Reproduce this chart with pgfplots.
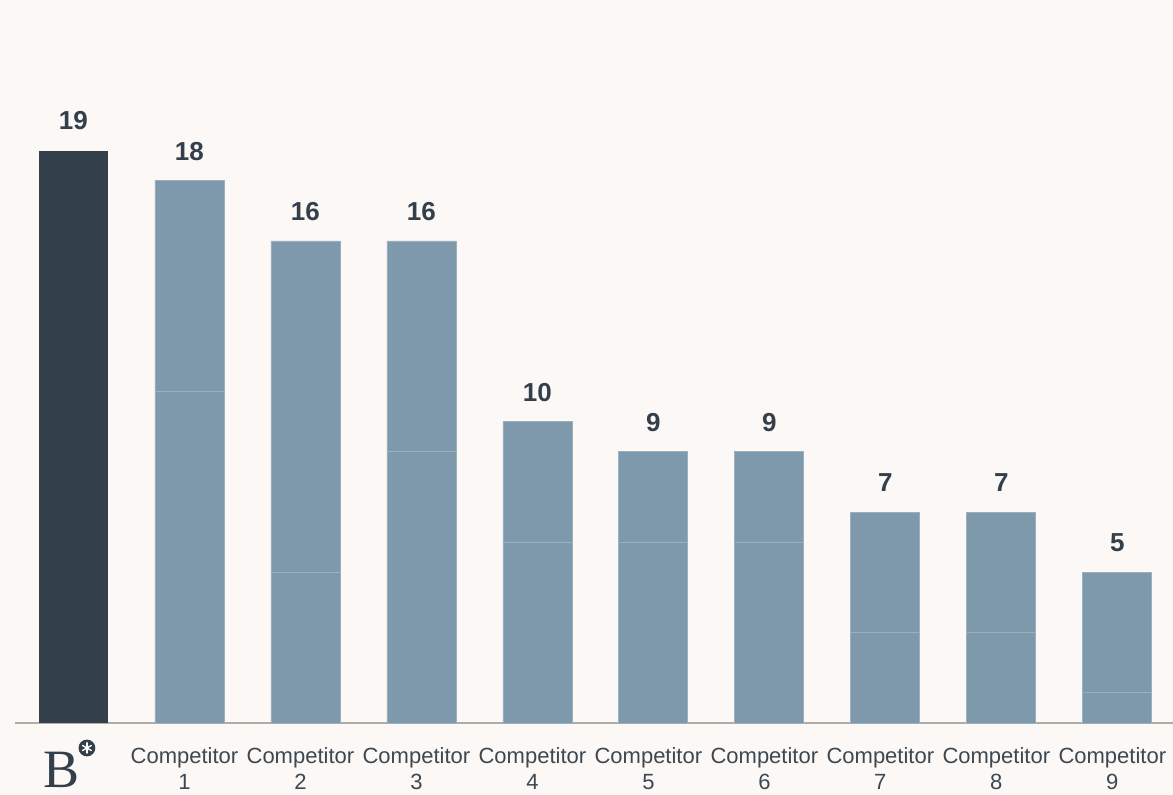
\documentclass[border=0pt]{standalone}
\usepackage{fontspec}
\setmainfont{Liberation Sans}
\newfontfamily\seriffont{Liberation Serif}
\usepackage{pgfplots}
\pgfplotsset{compat=1.18}

\definecolor{bg}{HTML}{FBF8F5}
\definecolor{darkbar}{HTML}{333F4A}
\definecolor{lightbar}{HTML}{7F99AC}
\definecolor{sepcol}{HTML}{9BAFBE}
\definecolor{axcol}{HTML}{B0ADA6}
\definecolor{txt}{HTML}{3D4852}

\pgfplotsset{
    panel/.style={
        at={(0,0)}, anchor=south west,
        scale only axis,
        width=579pt, height=361.5pt,
        xmin=-0.504, xmax=9.48,
        ymin=0, ymax=24,
        clip=false,
    }
}

\begin{document}
\begin{tikzpicture}
% canvas: 1 px = 0.5pt, 1173x795 px
\fill[bg] (-7.5pt,-36pt) rectangle (579pt,361.5pt);
\useasboundingbox (-7.5pt,-36pt) rectangle (579pt,361.5pt);
\begin{axis}[
    panel,
    ybar stacked,
    bar width=34.5pt,
    axis x line*=bottom,
    axis y line=none,
    axis line style={axcol, line width=0.8pt},
    xtick={0,...,9},
    xticklabels={,Competitor\\1,Competitor\\2,Competitor\\3,Competitor\\4,Competitor\\5,Competitor\\6,Competitor\\7,Competitor\\8,Competitor\\9},
    major tick length=0pt,
    xticklabel style={align=center, text=txt, inner sep=0pt, yshift=-12pt, xshift=-2.5pt,
        font=\fontsize{11}{13}\selectfont},
    ytick=\empty,
    ]

% B (own brand)
\addplot[fill=darkbar, draw=none] coordinates {
    (0,19) (1,0) (2,0) (3,0) (4,0) (5,0) (6,0) (7,0) (8,0) (9,0)
};
% lower segment
\addplot[fill=lightbar, draw=sepcol, line width=0.4pt] coordinates {
    (0,0) (1,11) (2,5) (3,9) (4,6) (5,6) (6,6) (7,3) (8,3) (9,1)
};
% upper segment
\addplot[fill=lightbar, draw=sepcol, line width=0.4pt] coordinates {
    (0,0) (1,7) (2,11) (3,7) (4,4) (5,3) (6,3) (7,4) (8,4) (9,4)
};

\coordinate (bpos) at (axis cs:-0.1,0);
\coordinate (mpos) at (axis cs:0.116,0);
\end{axis}

% totals above the bars
\begin{axis}[
    panel,
    hide axis,
    /pgf/number format/assume math mode=true,
    ]
\addplot[only marks, mark=none,
    nodes near coords={\pgfmathprintnumber{\pgfplotspointmeta}},
    every node near coord/.append style={anchor=south, inner sep=0pt, yshift=10pt,
        text=darkbar, font=\fontsize{13}{13}\selectfont\bfseries}
    ] coordinates {
    (0,19) (1,18) (2,16) (3,16) (4,10) (5,9) (6,9) (7,7) (8,7) (9,5)
};
\end{axis}

% brand mark under first bar
\node[anchor=base, inner sep=0pt, text=darkbar,
      font=\seriffont\fontsize{27}{27}\selectfont]
      at ([yshift=-32.5pt]bpos) {B};
\fill[darkbar] ([yshift=-12.5pt]mpos) circle (4.2pt);
\foreach \a in {90,150,...,450}
    \draw[white, line width=0.7pt, line cap=round] ([yshift=-12.5pt]mpos) -- ++(\a:2.5pt);
\end{tikzpicture}
\end{document}
